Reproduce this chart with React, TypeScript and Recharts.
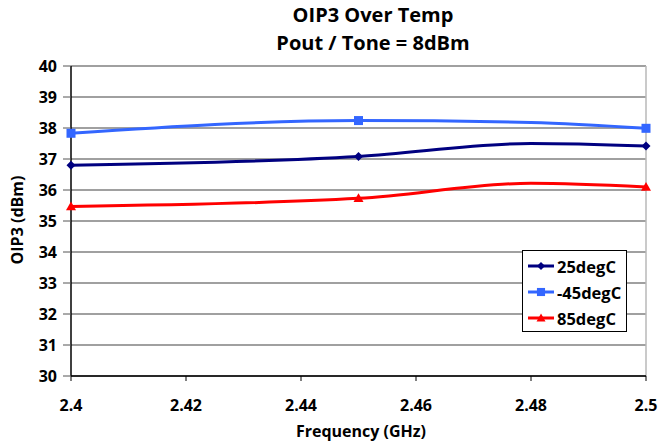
import React from 'react';
import { LineChart, Line, XAxis, YAxis, CartesianGrid, ReferenceLine } from 'recharts';

// Frequencies (GHz); markers are shown only at the measured points
const freqs = [2.4, 2.45, 2.48, 2.5];
const markerFreqs = [2.4, 2.45, 2.5];
const oip3_25 = [36.8, 37.08, 37.5, 37.42];
const oip3_m45 = [37.83, 38.24, 38.18, 37.99];
const oip3_85 = [35.47, 35.73, 36.22, 36.1];
const xTicks = [2.4, 2.42, 2.44, 2.46, 2.48, 2.5];
const yTicks = [30, 31, 32, 33, 34, 35, 36, 37, 38, 39, 40];

const seriesNames = ['25degC', '-45degC', '85degC'];
const colors = ['#000080', '#3366FF', '#FF0000'];
const shapes = ['diamond', 'square', 'triangle'];

const data = freqs.map((f, i) => ({
  f,
  marker: markerFreqs.includes(f),
  s25: oip3_25[i],
  sm45: oip3_m45[i],
  s85: oip3_85[i],
}));

const FONT = '"Open Sans", "Noto Sans", sans-serif';

function Marker({ shape, color, cx, cy, size = 1 }: any) {
  if (shape === 'diamond') {
    const r = 4.5 * size;
    return <polygon points={`${cx},${cy - r} ${cx + r},${cy} ${cx},${cy + r} ${cx - r},${cy}`} fill={color} />;
  }
  if (shape === 'square') {
    const r = 4.5 * size;
    return <rect x={cx - r} y={cy - r} width={2 * r} height={2 * r} fill={color} />;
  }
  const r = 5 * size;
  return <polygon points={`${cx},${cy - r} ${cx + r},${cy + r * 0.75} ${cx - r},${cy + r * 0.75}`} fill={color} />;
}

const makeDot = (shape: string, color: string) => (props: any) => {
  const { cx, cy, payload, index } = props;
  if (!payload || !payload.marker) return <g key={`d${index}`} />;
  return (
    <g key={`d${index}`}>
      <Marker shape={shape} color={color} cx={cx} cy={cy} />
    </g>
  );
};

function LegendBox() {
  return (
    <div
      style={{
        position: 'absolute',
        left: 522,
        top: 250,
        border: '1px solid #000',
        background: '#fff',
        width: 105,
        height: 82,
        boxSizing: 'border-box',
        padding: '2px 0 0 4px',
        fontFamily: FONT,
        fontWeight: 700,
        fontSize: 16.5,
        color: '#000',
        whiteSpace: 'nowrap',
      }}
    >
      {seriesNames.map((n, i) => (
        <div key={n} style={{ display: 'flex', alignItems: 'center', height: 26 }}>
          <svg width={28} height={12} style={{ marginRight: 2, flexShrink: 0 }}>
            <line x1={1} y1={6} x2={27} y2={6} stroke={colors[i]} strokeWidth={3} />
            <Marker shape={shapes[i]} color={colors[i]} cx={14} cy={6} size={0.9} />
          </svg>
          <span>{n}</span>
        </div>
      ))}
    </div>
  );
}

export default function App() {
  return (
    <div style={{ position: 'absolute', left: 0, top: 0, width: 666, height: 444, background: '#fff' }}>
      <div style={{ position: 'absolute', left: 0, width: 746, top: 1, textAlign: 'center', fontFamily: FONT, fontWeight: 700, fontSize: 20, lineHeight: '28px', color: '#000' }}>
        OIP3 Over Temp
      </div>
      <div style={{ position: 'absolute', left: 0, width: 746, top: 29, textAlign: 'center', fontFamily: FONT, fontWeight: 700, fontSize: 20, lineHeight: '28px', color: '#000' }}>
        Pout / Tone = 8dBm
      </div>
      <div
        style={{
          position: 'absolute',
          left: 17,
          top: 220,
          transform: 'translate(-50%, -50%) rotate(-90deg)',
          fontFamily: FONT,
          fontWeight: 700,
          fontSize: 16,
          whiteSpace: 'nowrap',
          color: '#000',
        }}
      >
        OIP3 (dBm)
      </div>
      <div style={{ position: 'absolute', left: 0, width: 722, top: 420, textAlign: 'center', fontFamily: FONT, fontWeight: 700, fontSize: 16, lineHeight: '22px', color: '#000' }}>
        Frequency (GHz)
      </div>
      <LineChart
        width={666}
        height={444}
        data={data}
        margin={{ top: 66, right: 20, bottom: 28, left: 0 }}
        style={{ position: 'absolute', left: 0, top: 0 }}
      >
        <CartesianGrid horizontal vertical={false} stroke="#808080" strokeWidth={1.5} />
        <ReferenceLine x={2.5} stroke="#b8b8b8" strokeWidth={1.5} />
        <XAxis
          dataKey="f"
          type="number"
          domain={[2.4, 2.5]}
          ticks={xTicks}
          interval={0}
          height={40}
          tickSize={5}
          tickMargin={19}
          axisLine={{ stroke: '#000', strokeWidth: 1.5 }}
          tickLine={{ stroke: '#000' }}
          tick={{ fill: '#000', fontFamily: FONT, fontWeight: 700, fontSize: 16 }}
          tickFormatter={(v: number) => String(Number(v.toFixed(2)))}
        />
        <YAxis
          type="number"
          domain={[30, 40]}
          ticks={yTicks}
          interval={0}
          width={71}
          tickSize={8}
          tickMargin={6}
          axisLine={{ stroke: '#000', strokeWidth: 1.5 }}
          tickLine={{ stroke: '#555' }}
          tick={{ fill: '#000', fontFamily: FONT, fontWeight: 700, fontSize: 16 }}
        />
        <Line
          name={seriesNames[0]}
          dataKey="s25"
          type="monotone"
          stroke={colors[0]}
          strokeWidth={3}
          dot={makeDot(shapes[0], colors[0])}
          activeDot={false}
          isAnimationActive={false}
        />
        <Line
          name={seriesNames[1]}
          dataKey="sm45"
          type="monotone"
          stroke={colors[1]}
          strokeWidth={3}
          dot={makeDot(shapes[1], colors[1])}
          activeDot={false}
          isAnimationActive={false}
        />
        <Line
          name={seriesNames[2]}
          dataKey="s85"
          type="monotone"
          stroke={colors[2]}
          strokeWidth={3}
          dot={makeDot(shapes[2], colors[2])}
          activeDot={false}
          isAnimationActive={false}
        />
      </LineChart>
      <LegendBox />
    </div>
  );
}
